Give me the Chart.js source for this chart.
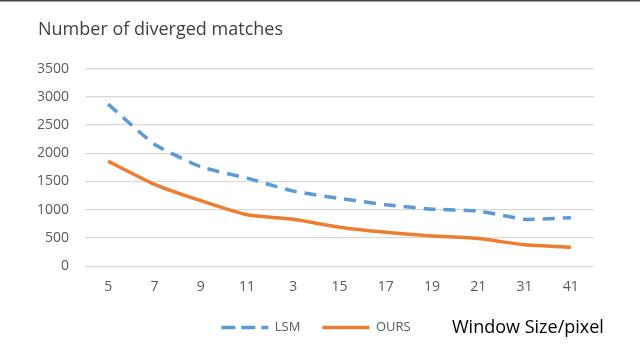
<!DOCTYPE html>
<html>
<head>
<meta charset="utf-8">
<script src="https://cdn.jsdelivr.net/npm/chart.js@4/dist/chart.umd.min.js"></script>
<style>
  html, body { margin: 0; padding: 0; background: #fff; }
  #wrap { width: 640px; height: 344px; position: relative; }
</style>
</head>
<body>
<div id="wrap"><canvas id="chart" width="640" height="344"></canvas></div>
<script>
// datos
const windowSizes = ["5", "7", "9", "11", "3", "15", "17", "19", "21", "31", "41"];
const lsmValues = [2870, 2160, 1760, 1560, 1330, 1200, 1090, 1010, 980, 830, 860];
const oursValues = [1860, 1450, 1160, 910, 830, 690, 600, 535, 490, 380, 335];
const yTicks = [0, 500, 1000, 1500, 2000, 2500, 3000, 3500];

const font = "'Open Sans', 'DejaVu Sans', sans-serif";

// borde de arriba y texto del eje x
const extras = {
  id: "extras",
  afterDraw(chart) {
    const ctx = chart.ctx;
    ctx.save();
    ctx.fillStyle = "#4a4a4a";
    ctx.fillRect(0, 0, 640, 1.5);
    ctx.fillStyle = "#000";
    ctx.font = "18px " + font;
    ctx.textBaseline = "middle";
    ctx.fillText("Window Size/pixel", 452, 328);
    ctx.restore();
  }
};

const ctx = document.getElementById("chart").getContext("2d");
new Chart(ctx, {
  type: "line",
  data: {
    labels: windowSizes,
    datasets: [
      {
        label: "LSM",
        data: lsmValues,
        borderColor: "#5B9BD5",
        backgroundColor: "#5B9BD5",
        borderWidth: 3.5,
        borderDash: [12, 8],
        pointRadius: 0,
        tension: 0.15
      },
      {
        label: "OURS",
        data: oursValues,
        borderColor: "#ED7D31",
        backgroundColor: "#ED7D31",
        borderWidth: 3.5,
        pointRadius: 0,
        tension: 0.15
      }
    ]
  },
  options: {
    responsive: false,
    animation: false,
    layout: { padding: { left: 38, right: 46, top: 9, bottom: 0 } },
    plugins: {
      title: {
        display: true,
        text: "Number of diverged matches",
        align: "start",
        color: "#404040",
        font: { family: font, size: 18, weight: "normal" },
        padding: { top: 10, bottom: 28 }
      },
      legend: {
        position: "bottom",
        align: "center",
        labels: {
          boxWidth: 47,
          boxHeight: 0,
          color: "#595959",
          font: { family: font, size: 13 },
          padding: 22
        }
      },
      tooltip: { enabled: false }
    },
    scales: {
      x: {
        offset: true,
        grid: { display: false },
        border: { display: false },
        ticks: { color: "#595959", font: { family: font, size: 14 }, padding: 4 }
      },
      y: {
        min: 0,
        max: 3500,
        afterBuildTicks: (axis) => { axis.ticks = yTicks.map(v => ({ value: v })); },
        afterFit: (axis) => { axis.width = 47; },
        grid: { color: "#d9d9d9", lineWidth: 1.3, drawTicks: false },
        border: { display: false },
        ticks: {
          color: "#595959",
          font: { family: font, size: 14 },
          padding: 16,
          callback: (v) => String(v)
        }
      }
    }
  },
  plugins: [extras]
});
</script>
</body>
</html>
